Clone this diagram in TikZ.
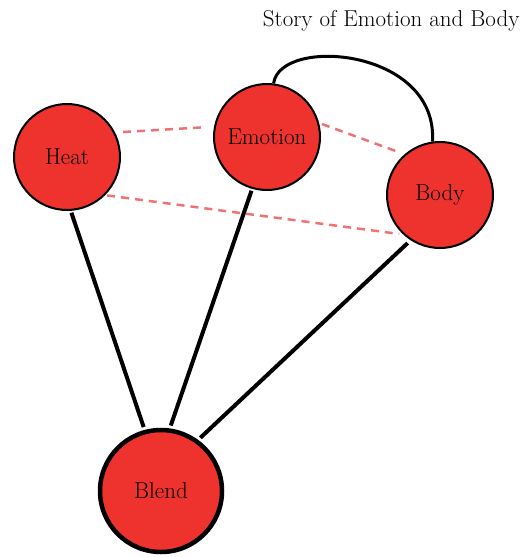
\documentclass[tikz,border=0pt]{standalone}
\usepackage{fontspec}
\setmainfont{Latin Modern Roman}
\usetikzlibrary{calc}
\definecolor{nodered}{RGB}{238,50,46}
\definecolor{linkpink}{RGB}{240,115,115}
\begin{document}
\begin{tikzpicture}[x=1pt,y=-1pt,
  labelfont/.style={font=\fontsize{23}{27}\selectfont},
  concept/.style={circle,draw=black,line width=2pt,fill=nodered,
    minimum size=106pt,inner sep=0pt,labelfont},
  blendnode/.style={concept,line width=4.5pt,minimum size=122pt},
  strong/.style={line width=4pt,draw=black},
  faint/.style={line width=2.5pt,draw=linkpink,dash pattern=on 8pt off 6pt},
  loop/.style={line width=3pt,draw=black}]
\useasboundingbox (0,0) rectangle (525,557);

% concepts
\node[concept] (heat) at (67,157) {Heat};
\node[concept] (emotion) at (267,137) {Emotion};
\node[concept] (body) at (440,195) {Body};
\node[blendnode] (blend) at (161,491) {Blend};

% title
\node[labelfont,anchor=east] (title) at (523,21) {Story of Emotion and Body};

% links into the blend
\draw[strong,shorten <=2pt,shorten >=3pt] (heat.-86) -- (blend.105);
\draw[strong,shorten <=2pt,shorten >=3pt] (emotion.-106) -- (blend.82);
\draw[strong,shorten <=4pt,shorten >=3pt] (body.-123) -- (blend.54);

% weak relations between inputs
\draw[faint,shorten <=8pt,shorten >=13pt] (heat.27) -- (emotion.169);
\draw[faint,shorten <=3pt,shorten >=6pt] (emotion.15) -- (body.131);
\draw[faint,shorten <=2pt,shorten >=4pt] (heat.-45) -- (body.-133);

% loop from emotion to body
\draw[loop] (emotion.83) .. controls (280,36) and (438,48) .. (body.98);
\end{tikzpicture}
\end{document}
